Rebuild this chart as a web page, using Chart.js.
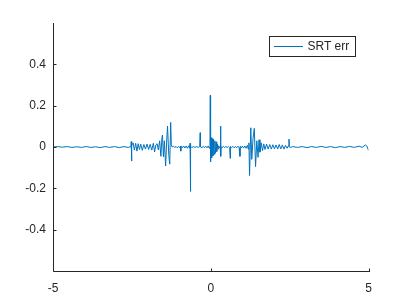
<!DOCTYPE html>
<html>
<head>
<meta charset="utf-8">
<script src="https://cdn.jsdelivr.net/npm/chart.js@4/dist/chart.umd.min.js"></script>
<style>
  html, body { margin: 0; padding: 0; background: #fff; }
  #wrap { width: 407px; height: 305px; }
</style>
</head>
<body>
<div id="wrap"><canvas id="errChart" width="407" height="305"></canvas></div>
<script>
// series
const seriesName = 'SRT err';
const xVals = [
  -5.00, -4.85, -4.70, -4.55, -4.40, -4.25, -4.10, -3.95, -3.80, -3.65, -3.50, -3.35, -3.20, -3.05, -2.90, -2.75, -2.62, -2.56,
  -2.53, -2.52, -2.51, -2.50, -2.46, -2.42, -2.38, -2.34, -2.30, -2.26, -2.22, -2.17, -2.12, -2.07, -2.02, -1.97, -1.92, -1.87,
  -1.82, -1.78, -1.74, -1.70, -1.66, -1.62, -1.58, -1.55, -1.53, -1.50, -1.47, -1.43, -1.40, -1.37, -1.33, -1.30, -1.27, -1.25, -1.22,
  -1.18, -1.14, -1.10, -1.06, -1.02, -0.98, -0.96, -0.95, -0.94, -0.90, -0.86, -0.82, -0.78, -0.74, -0.70, -0.67,
  -0.655, -0.645, -0.635, -0.60, -0.55, -0.50, -0.45, -0.40, -0.35, -0.335, -0.325, -0.28, -0.24, -0.20, -0.16, -0.12, -0.08, -0.05,
  -0.025, -0.015, -0.005, 0.01, 0.03, 0.05, 0.07, 0.09, 0.11, 0.13, 0.15, 0.17, 0.19, 0.21, 0.23, 0.25, 0.28, 0.30, 0.31, 0.32, 0.33,
  0.36, 0.40, 0.44, 0.48, 0.52, 0.56, 0.60, 0.615, 0.625, 0.66, 0.70, 0.74, 0.78, 0.82, 0.86, 0.90, 0.925, 0.935, 0.97, 1.00,
  1.04, 1.08, 1.12, 1.16, 1.19, 1.21, 1.23, 1.27, 1.30, 1.34, 1.38, 1.42, 1.46, 1.50, 1.53, 1.56, 1.60, 1.64, 1.68, 1.72,
  1.77, 1.82, 1.87, 1.92, 1.97, 2.02, 2.07, 2.12, 2.17, 2.22, 2.27, 2.32, 2.37, 2.42, 2.46, 2.48, 2.49, 2.52,
  2.60, 2.75, 2.90, 3.05, 3.20, 3.35, 3.50, 3.65, 3.80, 3.95, 4.10, 4.25, 4.40, 4.55, 4.70, 4.80, 4.90, 4.95, 5.00
];
const yVals = [
  0.000, 0.002, -0.001, 0.002, -0.002, 0.001, -0.002, 0.002, -0.002, 0.001, -0.003, 0.002, -0.002, 0.002, -0.003, 0.002, -0.002, 0.001,
  0.000, 0.026, -0.068, 0.008, 0.020, -0.015, 0.018, -0.020, 0.016, -0.012, 0.014, -0.016, 0.012, -0.010, 0.014, -0.012, 0.013, -0.015,
  0.018, -0.024, 0.010, 0.016, -0.014, 0.030, -0.045, 0.040, 0.058, -0.047, 0.030, -0.092, 0.020, 0.101, -0.040, -0.083, 0.119, 0.010, 0.000,
  0.004, -0.003, 0.003, -0.004, 0.003, -0.003, 0.004, -0.020, 0.004, -0.004, 0.005, -0.005, 0.005, -0.006, 0.006, -0.006,
  0.018, -0.215, 0.004, -0.003, 0.002, -0.002, 0.002, -0.002, 0.002, 0.069, 0.000, -0.003, 0.003, -0.003, 0.004, -0.004, 0.005, -0.006,
  0.008, 0.250, -0.072, 0.045, -0.052, 0.040, -0.042, 0.036, -0.035, 0.030, -0.030, 0.025, -0.022, 0.014, -0.010, 0.006, -0.004, 0.002, 0.101, -0.045, 0.002,
  -0.003, 0.003, -0.003, 0.003, -0.003, 0.003, -0.003, -0.055, 0.002, -0.003, 0.003, -0.004, 0.003, -0.004, 0.004, -0.004, -0.045, 0.004, -0.004, 0.004,
  -0.005, 0.005, -0.006, 0.008, -0.010, 0.020, -0.138, 0.093, -0.060, 0.040, 0.090, -0.095, 0.030, -0.050, 0.035, -0.025, 0.020, -0.018, 0.015, -0.012,
  0.014, -0.010, 0.012, -0.010, 0.011, -0.009, 0.010, -0.010, 0.012, -0.009, 0.010, -0.010, 0.008, -0.006, 0.006, 0.038, 0.000, -0.002,
  0.002, -0.002, 0.002, -0.003, 0.002, -0.002, 0.003, -0.002, 0.002, -0.003, 0.002, -0.002, 0.003, -0.002, 0.004, -0.002, 0.010, 0.004, -0.016
];
const xTicks = [-5, 0, 5];
const xTickLabels = ['-5', '0', '5'];
const yTicks = [-0.4, -0.2, 0, 0.2, 0.4];
const yTickLabels = ['-0.4', '-0.2', '0', '0.2', '0.4'];

const axisColor = '#262626';
const lineColor = '#0072BD';
const fontFamily = '"Liberation Sans", Arial, sans-serif';

// axis lines, inward ticks and the boxed legend, MATLAB style
const matlabAxes = {
    id: 'matlabAxes',
    afterDraw(chart) {
        const ctx = chart.ctx;
        const a = chart.chartArea;
        const xs = chart.scales.x, ys = chart.scales.y;
        const L = Math.round(a.left) + 0.5, B = Math.round(a.bottom) + 0.5;
        ctx.save();
        ctx.strokeStyle = axisColor;
        ctx.lineWidth = 1;
        ctx.beginPath();
        ctx.moveTo(L, Math.round(a.top));
        ctx.lineTo(L, B);
        ctx.lineTo(Math.round(a.right) + 1, B);
        xTicks.forEach(v => {
            const px = Math.round(xs.getPixelForValue(v)) + 0.5;
            ctx.moveTo(px, B);
            ctx.lineTo(px, B - 3);
        });
        yTicks.forEach(v => {
            const py = Math.round(ys.getPixelForValue(v)) + 0.5;
            ctx.moveTo(L, py);
            ctx.lineTo(L + 3, py);
        });
        ctx.stroke();

        // legend
        ctx.fillStyle = '#fff';
        ctx.fillRect(270, 37, 85, 19);
        ctx.strokeRect(269.5, 36.5, 86, 20);
        ctx.strokeStyle = lineColor;
        ctx.beginPath();
        ctx.moveTo(274, 46.5);
        ctx.lineTo(303, 46.5);
        ctx.stroke();
        ctx.fillStyle = axisColor;
        ctx.font = '12px ' + fontFamily;
        ctx.textBaseline = 'middle';
        ctx.fillText(seriesName, 307.5, 47);
        ctx.restore();
    }
};

const points = xVals.map((x, i) => ({ x: x, y: yVals[i] }));

new Chart(document.getElementById('errChart').getContext('2d'), {
    type: 'line',
    data: {
        datasets: [{
            label: seriesName,
            data: points,
            borderColor: lineColor,
            borderWidth: 1,
            pointRadius: 0,
            tension: 0,
            fill: false
        }]
    },
    options: {
        responsive: false,
        animation: false,
        layout: { padding: { left: 0, top: 23, right: 38.5, bottom: 0 } },
        plugins: { legend: { display: false }, tooltip: { enabled: false } },
        scales: {
            x: {
                type: 'linear',
                min: -5,
                max: 5,
                grid: { display: false, drawTicks: false },
                border: { display: false },
                afterBuildTicks: s => { s.ticks = xTicks.map(v => ({ value: v })); },
                afterFit: s => { s.height = 34; },
                ticks: {
                    color: axisColor,
                    font: { family: fontFamily, size: 12 },
                    padding: 10,
                    maxRotation: 0,
                    callback: v => xTickLabels[xTicks.indexOf(v)]
                }
            },
            y: {
                type: 'linear',
                min: -0.6,
                max: 0.6,
                grid: { display: false, drawTicks: false },
                border: { display: false },
                afterBuildTicks: s => { s.ticks = yTicks.map(v => ({ value: v })); },
                afterFit: s => { s.width = 53; },
                ticks: {
                    color: axisColor,
                    font: { family: fontFamily, size: 12 },
                    padding: 7,
                    callback: v => yTickLabels[yTicks.findIndex(t => Math.abs(t - v) < 1e-9)]
                }
            }
        }
    },
    plugins: [matlabAxes]
});
</script>
</body>
</html>
